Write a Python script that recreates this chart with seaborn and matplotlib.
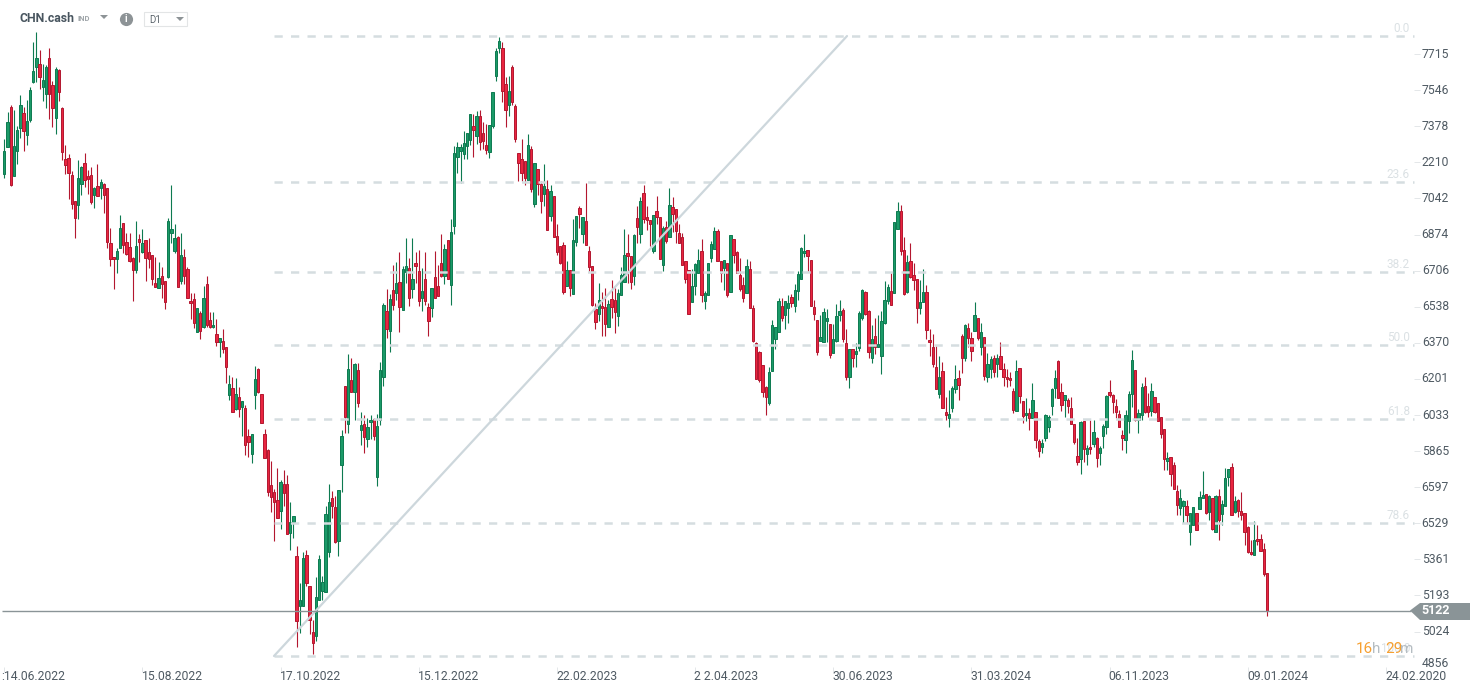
import matplotlib.pyplot as plt
import numpy as np
import pandas as pd
import seaborn as sns

# candles, oldest first, prices
body_tops = [
    7263,7397,7467,7287,7360,7476,7439,7402,7548,7635,
    7695,7667,7593,7655,7695,7569,7644,7641,7462,7225,
    7229,7150,7029,7136,7187,7206,7145,7150,7090,7102,
    7118,7108,7090,6833,6771,6796,6903,6926,6838,6815,
    6767,6819,6852,6833,6847,6791,6777,6647,6670,6680,
    6656,6936,6900,6857,6861,6777,6768,6712,6563,6572,
    6530,6507,6577,6642,6475,6451,6409,6391,6378,6349,
    6176,6158,6130,6116,6097,6065,5933,5943,6200,6246,
    6130,5943,5870,5706,5672,5636,5720,5711,5711,5533,
    5561,5375,5170,5366,5380,5234,5021,5184,5361,5254,
    5571,5627,5645,5603,5683,5934,6167,6246,6195,6270,
    6242,5985,5990,5976,6009,6013,5981,6242,6546,6520,
    6572,6616,6647,6652,6714,6726,6717,6666,6740,6703,
    6610,6666,6535,6624,6675,6633,6740,6806,6847,6885,
    7253,7281,7281,7299,7346,7434,7379,7425,7425,7346,
    7290,7383,7537,7728,7775,7742,7574,7542,7653,7472,
    7253,7225,7216,7290,7271,7206,7178,7108,7099,7085,
    7076,7052,6866,6819,6824,6708,6708,6847,6959,6997,
    6955,6936,6796,6726,6526,6568,6540,6535,6549,6573,
    6568,6601,6684,6778,6787,6773,6871,6950,7029,7066,
    6955,6941,6964,6983,6955,6903,6908,7011,7001,6992,
    6880,6863,6750,6708,6633,6736,6754,6796,6601,6740,
    6829,6889,6889,6751,6754,6740,6871,6852,6792,6686,
    6638,6726,6712,6531,6368,6326,6268,6163,6233,6451,
    6442,6563,6540,6563,6554,6582,6615,6689,6810,6796,
    6801,6754,6535,6475,6396,6512,6484,6456,6385,6493,
    6517,6521,6368,6340,6340,6330,6507,6616,6605,6517,
    6385,6400,6363,6470,6568,6629,6610,6931,6983,6983,
    6801,6745,6750,6684,6666,6559,6605,6605,6382,6349,
    6256,6209,6237,6046,6040,6158,6200,6205,6400,6451,
    6438,6391,6498,6484,6419,6395,6270,6293,6298,6301,
    6307,6246,6209,6204,6144,6237,6251,6097,6041,6041,
    6102,6046,5911,5902,6032,6023,6153,6204,6284,6139,
    6125,6102,6065,5990,5841,6000,6004,5881,5883,5953,
    5925,5878,5981,6121,6139,6125,6074,6037,5939,6032,
    6130,6288,6242,6041,6163,6167,6074,6144,6116,6088,
    6023,5967,5832,5836,5799,5678,5645,5631,5608,5575,
    5603,5575,5650,5659,5664,5655,5645,5655,5655,5617,
    5739,5780,5790,5631,5636,5585,5575,5510,5394,5451,
    5454,5454,5408,5296,
]
body_bottoms = [
    7158,7284,7105,7149,7265,7372,7358,7340,7408,7587,
    7656,7610,7562,7531,7531,7465,7419,7540,7260,7200,
    7163,7018,6953,7010,7111,7127,7135,7027,7059,7055,
    7093,7060,6838,6762,6762,6762,6810,6824,6784,6753,
    6711,6711,6841,6794,6767,6762,6669,6631,6627,6645,
    6562,6678,6883,6799,6631,6659,6683,6580,6554,6461,
    6419,6426,6445,6453,6445,6442,6371,6375,6340,6259,
    6127,6049,6060,6060,6072,5891,5905,5853,6125,6142,
    5995,5835,5676,5653,5627,5551,5588,5669,5478,5481,
    5533,5071,5145,5141,5249,5077,4970,5001,5173,5212,
    5210,5397,5611,5440,5448,5802,6026,5990,6139,6139,
    6088,5961,5930,5920,5999,5936,5743,6009,6212,6433,
    6425,6544,6600,6535,6521,6700,6576,6622,6729,6566,
    6580,6566,6469,6531,6577,6587,6680,6680,6666,6638,
    6913,7234,7265,7248,7285,7316,7360,7335,7307,7309,
    7267,7257,7379,7612,7742,7542,7453,7476,7490,7321,
    7206,7160,7136,7127,7085,7015,7108,7029,7062,6894,
    6959,6861,6792,6740,6605,6633,6624,6596,6838,6972,
    6875,6824,6722,6545,6465,6503,6531,6456,6442,6535,
    6512,6493,6591,6652,6773,6652,6680,6908,6875,6945,
    6941,6922,6796,6955,6759,6731,6843,6861,6969,6889,
    6833,6731,6669,6506,6562,6636,6694,6594,6566,6590,
    6765,6806,6753,6694,6717,6590,6605,6778,6694,6618,
    6580,6601,6534,6380,6203,6198,6138,6119,6090,6236,
    6385,6422,6484,6498,6531,6554,6543,6613,6666,6787,
    6773,6543,6503,6329,6380,6375,6469,6315,6324,6380,
    6501,6389,6208,6208,6298,6316,6347,6484,6503,6329,
    6301,6352,6352,6307,6461,6563,6548,6601,6902,6796,
    6599,6605,6675,6661,6531,6531,6559,6428,6371,6273,
    6153,6133,6068,6034,6021,6068,6153,6172,6301,6301,
    6394,6333,6424,6391,6349,6214,6212,6246,6232,6270,
    6248,6209,6200,6195,6055,6051,6121,6027,6032,6018,
    6018,5916,5864,5883,5925,5976,6074,6158,6111,6079,
    6102,6074,5990,5905,5813,5826,5874,5850,5874,5900,
    5835,5858,5934,5976,6125,6093,6046,5976,5925,5916,
    6004,6130,6009,6009,6032,6046,6049,6051,6046,6004,
    5944,5827,5818,5760,5690,5616,5599,5607,5565,5490,
    5520,5498,5594,5648,5575,5580,5501,5487,5543,5571,
    5608,5743,5565,5580,5585,5566,5490,5394,5386,5383,
    5445,5401,5290,5122,
]
highs = [
    7319,7445,7478,7454,7380,7524,7467,7501,7560,7771,
    7818,7734,7669,7664,7743,7590,7655,7644,7467,7291,
    7250,7170,7029,7222,7195,7253,7175,7187,7097,7203,
    7131,7116,7093,6903,6771,6810,6965,6926,6880,6880,
    6771,6937,6875,6899,6847,6857,6777,6771,6745,6725,
    6656,6950,7103,6923,6866,6880,6805,6725,6600,6600,
    6530,6520,6635,6681,6515,6512,6481,6391,6433,6349,
    6220,6209,6204,6162,6097,6080,5967,5943,6262,6251,
    6130,5967,5874,5818,5687,5785,5731,5777,5754,5627,
    5561,5423,5249,5397,5405,5234,5078,5277,5381,5283,
    5610,5711,5680,5656,5683,5964,6167,6318,6298,6274,
    6274,6046,6034,6018,6034,6018,6038,6282,6554,6619,
    6597,6732,6748,6791,6728,6857,6767,6857,6792,6802,
    6717,6792,6554,6624,6798,6733,6877,6829,6847,6945,
    7287,7304,7296,7357,7346,7434,7434,7450,7455,7399,
    7388,7383,7537,7742,7793,7770,7608,7612,7663,7481,
    7253,7318,7216,7341,7285,7206,7178,7122,7202,7129,
    7104,7052,6922,6819,6838,6750,6708,6945,6959,7007,
    6955,7115,6819,6726,6554,6647,6605,6624,6568,6663,
    6624,6619,6722,6899,6875,6773,6875,7006,7048,7104,
    7006,6941,6964,7052,6955,6913,6936,7090,7048,6992,
    6922,6882,6750,6708,6712,6740,6806,6852,6610,6740,
    6843,6908,6899,6751,6754,6740,6871,6852,6796,6764,
    6675,6759,6750,6545,6372,6330,6268,6166,6259,6475,
    6442,6580,6577,6563,6594,6596,6643,6703,6815,6875,
    6801,6754,6568,6475,6498,6531,6526,6456,6456,6549,
    6568,6531,6433,6340,6340,6368,6517,6621,6610,6521,
    6451,6484,6498,6517,6656,6643,6694,6931,7025,7011,
    6861,6778,6834,6740,6666,6663,6712,6639,6433,6410,
    6354,6306,6279,6119,6150,6166,6267,6243,6410,6456,
    6461,6422,6559,6484,6461,6395,6321,6308,6312,6316,
    6372,6277,6246,6232,6158,6288,6251,6097,6111,6065,
    6181,6046,5920,5920,6037,6032,6158,6243,6288,6181,
    6125,6111,6116,5990,5925,6004,6004,5894,6009,6009,
    5930,5889,5990,6125,6197,6130,6107,6055,5962,6055,
    6144,6335,6242,6060,6181,6209,6135,6181,6116,6088,
    6023,5967,5860,5836,5813,5706,5687,5636,5636,5575,
    5603,5575,5678,5771,5664,5659,5645,5659,5687,5638,
    5785,5780,5810,5655,5641,5675,5575,5516,5451,5538,
    5521,5479,5436,5296,
]
lows = [
    7139,7284,7100,7149,7204,7326,7265,7291,7400,7582,
    7587,7551,7498,7465,7413,7375,7344,7496,7222,7156,
    7040,6992,6860,6948,7059,7097,7065,7017,7000,7055,
    7040,6976,6810,6729,6622,6697,6810,6787,6779,6748,
    6566,6697,6745,6787,6659,6720,6641,6628,6624,6580,
    6529,6673,6833,6787,6631,6642,6642,6577,6479,6437,
    6419,6388,6437,6445,6437,6437,6355,6302,6324,6184,
    6103,6049,6057,6026,5933,5847,5839,5811,6060,6135,
    5995,5832,5656,5583,5448,5551,5504,5611,5478,5406,
    5459,4954,5019,5141,5234,5012,4919,4978,5172,5172,
    5210,5370,5552,5436,5378,5676,5948,5948,6139,6010,
    6072,5894,5855,5886,5920,5917,5703,5987,6169,6391,
    6329,6523,6569,6422,6521,6647,6543,6577,6647,6543,
    6520,6546,6403,6492,6577,6587,6678,6642,6666,6546,
    6875,7160,7116,7225,7225,7292,7237,7295,7268,7273,
    7251,7230,7369,7591,7719,7494,7377,7428,7478,7307,
    7125,7125,7104,7127,7074,7004,7059,6976,7009,6894,
    6939,6861,6781,6736,6596,6633,6587,6596,6819,6903,
    6833,6824,6702,6542,6433,6469,6403,6399,6442,6484,
    6414,6450,6591,6652,6647,6619,6638,6833,6833,6927,
    6894,6819,6790,6922,6759,6706,6833,6861,6888,6833,
    6833,6731,6647,6506,6562,6590,6694,6559,6529,6590,
    6748,6806,6753,6653,6616,6585,6605,6740,6694,6613,
    6562,6601,6531,6371,6203,6189,6119,6031,6082,6236,
    6340,6422,6469,6436,6461,6538,6515,6570,6666,6771,
    6702,6543,6475,6313,6380,6375,6375,6301,6321,6375,
    6469,6375,6194,6161,6259,6259,6330,6476,6497,6298,
    6274,6316,6352,6226,6456,6549,6545,6601,6902,6778,
    6590,6601,6670,6616,6464,6503,6559,6385,6306,6259,
    6153,6111,6068,6010,5979,6049,6135,6104,6231,6287,
    6352,6287,6424,6383,6315,6197,6189,6204,6212,6209,
    6246,6170,6163,6170,6044,6051,6088,5998,6003,5962,
    6018,5881,5839,5858,5914,5956,6032,6111,6111,6054,
    6026,6041,5990,5899,5802,5756,5816,5798,5850,5886,
    5793,5798,5877,5944,6119,6041,6018,5975,5871,5858,
    5947,6072,6006,5947,6009,6041,6026,6029,6044,6003,
    5925,5777,5777,5704,5690,5565,5565,5529,5529,5428,
    5520,5495,5594,5645,5571,5544,5498,5487,5451,5520,
    5608,5700,5565,5575,5560,5544,5425,5389,5381,5383,
    5426,5401,5283,5098,
]
# u = up candle, d = down candle
directions = (
    "uuduuuduuu" "uduudduddd" "ddduudddud" "udddduuddd" "dududdddud"
    "duuududddd" "ududdududd" "udududduud" "dddddduddu" "uduuddduuu"
    "uudduududu" "duduuduuud" "ududuududd" "uddudddudu" "uuuuuududd"
    "duuuuddudd" "dddududdud" "udddduduud" "udddduddud" "duuuddudud"
    "dduddududd" "dddduuuduu" "uuddududdd" "dudddddduu" "uuduuduuuu"
    "dddduuuduu" "udduduuudd" "uduuuuduud" "duddduuddd" "dudduuuddu"
    "ddududuudu" "ddddduddud" "udduuuuudd" "uddddududu" "duuudddddu"
    "uuduuddudd" "dduddduudu" "uduudududu" "uududddddu" "dddd"
)

price_ticks = [7715, 7546, 7378, 7210, 7042, 6874, 6706, 6538, 6370,
               6201, 6033, 5865, 5697, 5529, 5361, 5193, 5024, 4856]
price_labels = ["7715", "7546", "7378", "2210", "7042", "6874", "6706", "6538", "6370",
                "6201", "6033", "5865", "6597", "6529", "5361", "5193", "5024", "4856"]

date_positions = [0, 43, 86, 129, 172, 215, 258, 301, 344, 387, 430]
date_labels = [":14.06.2022", "15.08.2022", "17.10.2022", "15.12.2022", "22.02.2023",
               "2 2.04.2023", "30.06.2023", "31.03.2024", "06.11.2023", "09.01.2024",
               "24.02.2020"]

fib_levels = ["0.0", "23.6", "38.2", "50.0", "61.8", "78.6", "100.0"]
fib_prices = [7799, 7119, 6699, 6359, 6014, 5530, 4910]
last_price = 5122

GREEN, GREEN_DARK = "#1b9a68", "#0d7a50"
RED, RED_DARK = "#e92540", "#b3172f"
FIB = "#d5dde0"
TEXT = "#4f5a63"
TAG = "#8a9497"


# pixel helpers for placing annotations only
def xp(px):
    return (px - 4.3) / 3.213


def yp(py):
    return 7967 - 4.66 * py


df = pd.DataFrame({"top": body_tops, "bottom": body_bottoms, "high": highs, "low": lows})
df["idx"] = np.arange(len(df))
df["up"] = [d == "u" for d in directions]
df["body"] = df["top"] - df["bottom"]

sns.set_theme(style="white")
plt.rcParams["font.family"] = ["Roboto", "DejaVu Sans"]

fig = plt.figure(figsize=(14.82, 6.94), dpi=100, facecolor="white")
ax = fig.add_axes([0, 0, 1, 1])

# wicks
for up, col in [(True, GREEN_DARK), (False, RED_DARK)]:
    part = df[df["up"] == up]
    ax.vlines(part["idx"], part["low"], part["high"], color=col, lw=0.8, zorder=2)

# bodies
for up, col, edge in [(True, GREEN, GREEN_DARK), (False, RED, RED_DARK)]:
    part = df[df["up"] == up]
    sns.barplot(data=part, x="idx", y="body", bottom=part["bottom"].values, native_scale=True,
                width=0.74, color=col, saturation=1, edgecolor=edge, linewidth=0.7,
                errorbar=None, zorder=3, ax=ax)

ax.set_xlim(xp(0), xp(1482))
ax.set_ylim(yp(694), yp(0))
ax.axis("off")

# fibonacci retracement
ax.hlines(fib_prices, xp(274), xp(1414), color=FIB, lw=1.8, linestyles=[(0, (3.3, 3.3))], zorder=4)
sns.lineplot(x=[xp(274), xp(847)], y=[fib_prices[-1], fib_prices[0]], color="#cdd7dc", lw=1.6,
             zorder=4, ax=ax)
for lev, pr in zip(fib_levels, fib_prices):
    ax.text(xp(1410), pr + 35, lev, ha="right", va="center", fontsize=8.5, color="#dbe1e4", zorder=5)
ax.set_xlabel("")
ax.set_ylabel("")

# last price line and tag
ax.hlines(last_price, xp(2), xp(1411), color=TAG, lw=1, zorder=5)
ax.fill([xp(1410), xp(1420), xp(1470), xp(1470), xp(1420)],
        [last_price, yp(603), yp(603), yp(620), yp(620)], color=TAG, lw=0, zorder=5)
ax.text(xp(1435.5), last_price, "5122", color="white", fontsize=9, fontweight="bold",
        ha="center", va="center", zorder=6)

# price axis
for pr, lab in zip(price_ticks, price_labels):
    if lab == "4856":
        pr += 21
    else:
        ax.hlines(pr, xp(1414), xp(1420), color="#e4e7e9", lw=0.7)
    ax.text(xp(1449), pr, lab, ha="right", va="center", fontsize=8.7, color=TEXT)

# date axis
for pos, lab in zip(date_positions, date_labels):
    ax.vlines(pos, yp(672), yp(667), color="#e4e7e9", lw=0.7)
    left = xp(1.5) if lab.startswith(":") else pos - 0.25
    ax.text(left, yp(677), lab, ha="left", va="center", fontsize=8.7, color=TEXT)

# countdown
for px, txt, col in [(1356, "16", "#f7a030"), (1372, "h", "#b5bdc2"),
                     (1385, "29", "#f7a030"), (1400, "m", "#b5bdc2")]:
    ax.text(xp(px), yp(649), txt, ha="left", va="center", fontsize=11, color=col, zorder=6)

# header
ax.text(xp(20), yp(19), "CHN.cash", fontsize=8.8, fontweight="bold", color="#48555f", va="center")
ax.text(xp(78), yp(19), "IND", fontsize=5.5, fontweight="bold", color="#a0a6aa", va="center")
ax.fill([xp(100), xp(108), xp(104)], [yp(15), yp(15), yp(19)], color="#8d9396", lw=0)
ax.scatter([xp(126)], [yp(19)], s=90, color="#8d9396", lw=0)
ax.text(xp(126), yp(19), "i", fontsize=7, fontweight="bold", color="white", ha="center", va="center")
ax.fill([xp(144), xp(187), xp(187), xp(144), xp(144)], [yp(12), yp(12), yp(26), yp(26), yp(12)],
        facecolor="white", edgecolor="#e3e5e6", lw=0.8)
ax.text(xp(149), yp(20), "D1", fontsize=7, color="#5d666d", va="center")
ax.fill([xp(176), xp(184), xp(180)], [yp(17), yp(17), yp(21)], color="#8d9396", lw=0)

fig.savefig("out.png", dpi=100)
